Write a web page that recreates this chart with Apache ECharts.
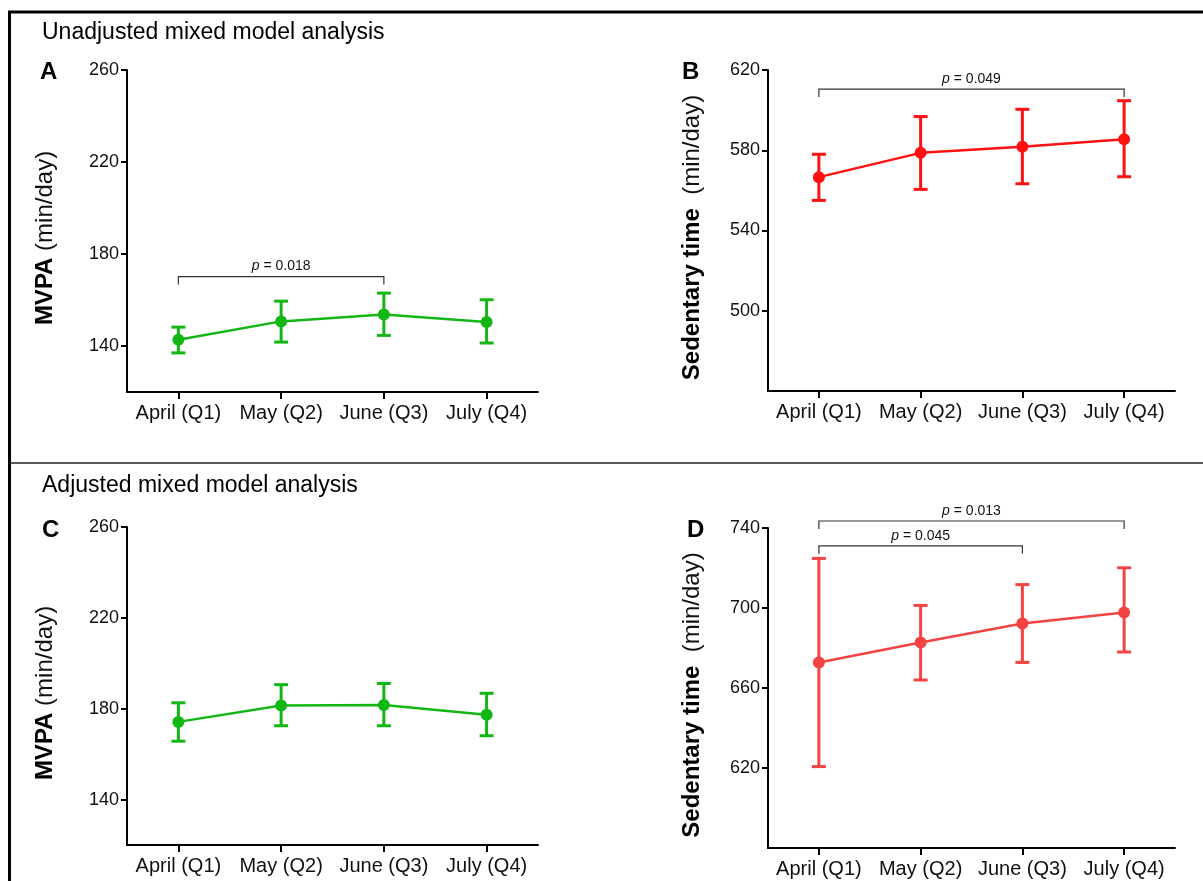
<!DOCTYPE html>
<html>
<head>
<meta charset="utf-8">
<script src="https://cdn.jsdelivr.net/npm/echarts@6/dist/echarts.min.js"></script>
<style>
  html, body { margin: 0; padding: 0; background: #fff; }
  #chart { width: 1203px; height: 881px; }
</style>
</head>
<body>
<div id="chart"></div>
<script>
// quarters on the x axis
const quarters = ['April (Q1)', 'May (Q2)', 'June (Q3)', 'July (Q4)'];

// A - unadjusted MVPA (min/day)
const mvpaUnadjMean = [142.7, 150.7, 153.7, 150.4];
const mvpaUnadjLow = [137.0, 141.7, 144.6, 141.3];
const mvpaUnadjHigh = [148.2, 159.5, 163.0, 160.1];

// B - unadjusted sedentary time (min/day)
const sedUnadjMean = [566.6, 578.7, 581.8, 585.5];
const sedUnadjLow = [555.0, 560.5, 563.3, 566.8];
const sedUnadjHigh = [578.0, 596.8, 600.4, 604.7];

// C - adjusted MVPA (min/day)
const mvpaAdjMean = [174.2, 181.4, 181.6, 177.3];
const mvpaAdjLow = [165.7, 172.5, 172.5, 168.1];
const mvpaAdjHigh = [182.6, 190.6, 191.1, 186.8];

// D - adjusted sedentary time (min/day)
const sedAdjMean = [672.7, 682.7, 692.2, 697.8];
const sedAdjLow = [620.7, 664.0, 672.8, 678.0];
const sedAdjHigh = [724.8, 701.3, 711.7, 720.1];

// y axis ticks
const mvpaTicks = [140, 180, 220, 260];
const sedUnadjTicks = [500, 540, 580, 620];
const sedAdjTicks = [620, 660, 700, 740];

// significance brackets: [from index, to index, y value, p text]
const bracketsA = [[0, 2, 170.2, '0.018']];
const bracketsB = [[0, 3, 610.5, '0.049']];
const bracketsD = [[0, 3, 743.5, '0.013'], [0, 2, 731.1, '0.045']];

const FONT = 'Liberation Sans, Arial, sans-serif';
const GREEN = '#13b713';
const RED = '#ff1111';
const RED2 = '#f34343';

const chart = echarts.init(document.getElementById('chart'), null, { renderer: 'canvas' });

function xAxisOf(idx) {
  return {
    type: 'category',
    gridIndex: idx,
    data: quarters,
    boundaryGap: true,
    axisLine: { show: true, lineStyle: { color: '#000', width: 2 } },
    axisTick: { show: true, alignWithLabel: true, length: 7, lineStyle: { color: '#000', width: 2 } },
    axisLabel: { color: '#111', fontSize: 20, fontFamily: FONT, margin: 11, interval: 0 },
    splitLine: { show: false }
  };
}

function yAxisOf(idx, min, max, ticks, bold, rest, gap, shift) {
  return {
    type: 'value',
    gridIndex: idx,
    min: min,
    max: max,
    axisLine: { show: true, lineStyle: { color: '#000', width: 2 } },
    axisTick: { show: true, length: 6, customValues: ticks, lineStyle: { color: '#000', width: 2 } },
    axisLabel: { color: '#111', fontSize: 18, fontFamily: FONT, margin: 8, customValues: ticks },
    splitLine: { show: false },
    name: '{b|' + bold + '}{n|' + rest + '}',
    nameLocation: 'middle',
    nameGap: gap,
    nameRotate: 90,
    nameTextStyle: {
      padding: [0, shift, 0, 0],
      rich: {
        b: { fontSize: 24, fontWeight: 'bold', fontFamily: FONT, color: '#000' },
        n: { fontSize: 24, fontFamily: FONT, color: '#111' }
      }
    }
  };
}

function meanSeries(idx, data, color) {
  return {
    type: 'line',
    xAxisIndex: idx,
    yAxisIndex: idx,
    data: data,
    symbol: 'circle',
    symbolSize: 12,
    z: 5,
    itemStyle: { color: color },
    lineStyle: { color: color, width: 2.5 },
    animation: false
  };
}

function errorSeries(idx, low, high, color) {
  return {
    type: 'custom',
    xAxisIndex: idx,
    yAxisIndex: idx,
    z: 4,
    animation: false,
    data: low.map((v, i) => [i, v, high[i]]),
    renderItem: function (params, api) {
      const lo = api.coord([api.value(0), api.value(1)]);
      const hi = api.coord([api.value(0), api.value(2)]);
      const half = 7;
      const st = { stroke: color, lineWidth: 3 };
      return {
        type: 'group',
        children: [
          { type: 'line', shape: { x1: lo[0], y1: lo[1], x2: hi[0], y2: hi[1] }, style: st },
          { type: 'line', shape: { x1: lo[0] - half, y1: lo[1], x2: lo[0] + half, y2: lo[1] }, style: st },
          { type: 'line', shape: { x1: hi[0] - half, y1: hi[1], x2: hi[0] + half, y2: hi[1] }, style: st }
        ]
      };
    }
  };
}

function bracketSeries(idx, brackets) {
  return {
    type: 'custom',
    xAxisIndex: idx,
    yAxisIndex: idx,
    z: 3,
    clip: false,
    animation: false,
    data: brackets.map(b => [b[0], b[1], b[2]]),
    renderItem: function (params, api) {
      const a = api.coord([api.value(0), api.value(2)]);
      const b = api.coord([api.value(1), api.value(2)]);
      const drop = 8;
      const txt = brackets[params.dataIndex][3];
      return {
        type: 'group',
        children: [
          {
            type: 'polyline',
            shape: { points: [[a[0], a[1] + drop], [a[0], a[1]], [b[0], b[1]], [b[0], b[1] + drop]] },
            style: { stroke: '#333', lineWidth: 1.2, fill: null }
          },
          {
            type: 'text',
            x: (a[0] + b[0]) / 2,
            y: a[1] - 3,
            style: {
              text: '{i|p} = ' + txt,
              rich: { i: { fontStyle: 'italic', fontSize: 14, fontFamily: FONT, fill: '#111' } },
              fontSize: 14,
              fontFamily: FONT,
              fill: '#111',
              align: 'center',
              verticalAlign: 'bottom'
            }
          }
        ]
      };
    }
  };
}

function label(text, x, y, size, weight) {
  return {
    type: 'text',
    left: x,
    top: y,
    style: { text: text, fontSize: size, fontWeight: weight, fontFamily: FONT, fill: '#000' }
  };
}

chart.setOption({
  backgroundColor: '#fff',
  animation: false,
  grid: [
    { left: 127, top: 70, width: 411, height: 322 },
    { left: 768, top: 70, width: 407, height: 321 },
    { left: 127, top: 527, width: 411, height: 318 },
    { left: 768, top: 528, width: 407, height: 320 }
  ],
  xAxis: [xAxisOf(0), xAxisOf(1), xAxisOf(2), xAxisOf(3)],
  yAxis: [
    yAxisOf(0, 120, 260, mvpaTicks, 'MVPA', ' (min/day)', 70, 14),
    yAxisOf(1, 460, 620, sedUnadjTicks, 'Sedentary time', '  (min/day)', 64, 14),
    yAxisOf(2, 120, 260, mvpaTicks, 'MVPA', ' (min/day)', 70, 14),
    yAxisOf(3, 580, 740, sedAdjTicks, 'Sedentary time', '  (min/day)', 64, 14)
  ],
  series: [
    errorSeries(0, mvpaUnadjLow, mvpaUnadjHigh, GREEN),
    meanSeries(0, mvpaUnadjMean, GREEN),
    bracketSeries(0, bracketsA),
    errorSeries(1, sedUnadjLow, sedUnadjHigh, RED),
    meanSeries(1, sedUnadjMean, RED),
    bracketSeries(1, bracketsB),
    errorSeries(2, mvpaAdjLow, mvpaAdjHigh, GREEN),
    meanSeries(2, mvpaAdjMean, GREEN),
    errorSeries(3, sedAdjLow, sedAdjHigh, RED2),
    meanSeries(3, sedAdjMean, RED2),
    bracketSeries(3, bracketsD)
  ],
  graphic: [
    // outer frame and divider
    { type: 'line', shape: { x1: 8, y1: 12, x2: 1203, y2: 12 }, style: { stroke: '#000', lineWidth: 3 } },
    { type: 'line', shape: { x1: 9.5, y1: 11, x2: 9.5, y2: 881 }, style: { stroke: '#000', lineWidth: 3 } },
    { type: 'line', shape: { x1: 9, y1: 463, x2: 1203, y2: 463 }, style: { stroke: '#222', lineWidth: 1.5 } },
    label('Unadjusted mixed model analysis', 42, 21, 23, 'normal'),
    label('Adjusted mixed model analysis', 42, 474, 23, 'normal'),
    label('A', 40, 60, 24, 'bold'),
    label('B', 682, 60, 24, 'bold'),
    label('C', 42, 518, 24, 'bold'),
    label('D', 687, 518, 24, 'bold')
  ]
});
</script>
</body>
</html>
